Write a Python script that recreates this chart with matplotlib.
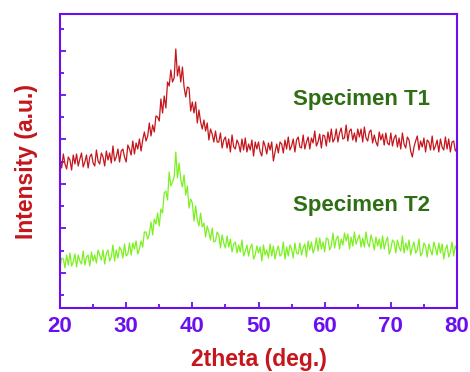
"""XRD patterns of specimens T1 and T2."""

import matplotlib

matplotlib.use("Agg")

import matplotlib.pyplot as plt
import numpy as np

plt.rcParams["font.family"] = ["Liberation Sans", "DejaVu Sans"]
plt.rcParams["font.weight"] = "bold"

# intensity (a.u.), sampled every 0.25 deg from 20 to 80 deg 2theta
t1_counts = [
    150, 140, 154, 144, 139, 151, 148, 138, 153, 144, 154, 142,
    149, 155, 141, 146, 153, 140, 151, 154, 145, 142, 158, 147,
    144, 155, 151, 142, 157, 148, 155, 145, 162, 147, 151, 159,
    146, 157, 159, 151, 146, 163, 159, 153, 167, 154, 165, 159,
    169, 157, 168, 176, 167, 172, 185, 172, 183, 176, 192, 191,
    187, 209, 195, 212, 200, 226, 222, 238, 226, 230, 259, 232,
    242, 226, 241, 221, 211, 221, 220, 197, 206, 195, 206, 185,
    198, 186, 179, 188, 177, 185, 168, 179, 174, 166, 177, 166,
    166, 175, 160, 168, 171, 160, 169, 156, 173, 161, 159, 168,
    164, 156, 169, 158, 170, 156, 164, 158, 168, 152, 166, 159,
    166, 156, 152, 167, 162, 154, 165, 158, 166, 147, 156, 164,
    155, 166, 164, 155, 168, 159, 171, 158, 162, 169, 156, 168,
    171, 161, 160, 173, 159, 166, 171, 159, 170, 165, 177, 162,
    166, 174, 160, 173, 172, 162, 176, 166, 179, 166, 169, 179,
    166, 175, 180, 169, 170, 183, 167, 177, 179, 168, 175, 166,
    179, 171, 179, 166, 181, 170, 167, 176, 178, 165, 173, 166,
    162, 176, 168, 174, 163, 175, 165, 163, 175, 162, 170, 173,
    161, 170, 159, 175, 164, 160, 171, 168, 157, 151, 161, 167,
    172, 158, 167, 161, 170, 156, 168, 166, 158, 172, 158, 162,
    168, 156, 169, 161, 158, 171, 159, 169, 156, 166, 167, 157,
    160,
]

t2_counts = [
    40, 50, 49, 40, 53, 43, 55, 42, 46, 54, 41, 53,
    47, 44, 57, 43, 51, 53, 42, 56, 47, 53, 45, 58,
    53, 48, 58, 44, 55, 58, 47, 51, 63, 47, 58, 50,
    61, 58, 50, 64, 52, 54, 65, 53, 65, 59, 67, 54,
    59, 67, 61, 76, 76, 69, 74, 86, 73, 89, 84, 95,
    82, 99, 95, 115, 117, 108, 136, 122, 126, 131, 156, 130,
    145, 128, 121, 133, 113, 122, 100, 109, 105, 87, 102, 88,
    82, 95, 81, 85, 71, 82, 76, 68, 80, 66, 67, 76,
    73, 60, 73, 65, 60, 72, 61, 69, 56, 64, 66, 55,
    63, 56, 68, 52, 57, 63, 52, 60, 64, 49, 53, 62,
    55, 61, 47, 63, 53, 58, 50, 64, 52, 62, 49, 57,
    62, 52, 54, 66, 49, 61, 52, 63, 59, 50, 65, 55,
    54, 65, 53, 60, 64, 51, 67, 58, 66, 55, 60, 70,
    57, 70, 59, 66, 56, 70, 69, 58, 62, 75, 60, 69,
    72, 59, 69, 63, 75, 67, 74, 59, 71, 62, 76, 64,
    69, 73, 61, 70, 61, 76, 65, 61, 73, 67, 58, 71,
    62, 69, 59, 72, 59, 66, 71, 54, 59, 68, 66, 55,
    68, 61, 57, 72, 55, 65, 58, 68, 53, 61, 66, 55,
    58, 69, 52, 55, 65, 62, 51, 64, 58, 53, 66, 60,
    53, 65, 55, 64, 49, 59, 63, 51, 56, 66, 52, 62,
    58,
]

two_theta = np.linspace(20, 80, len(t1_counts))

axis_color = "#6a10f0"
red = "#c4161c"
green = "#7cf020"
label_green = "#2f6e14"

fig = plt.figure(figsize=(4.7, 3.72), dpi=100)
ax = fig.add_axes([0.1277, 0.172, 0.8446, 0.7904])

ax.plot(two_theta, t1_counts, color=red, linewidth=0.9)
ax.plot(two_theta, t2_counts, color=green, linewidth=0.9)

ax.text(65.6, 208, "Specimen T1", color=label_green, fontsize=16, fontweight="bold",
        ha="center", va="center")
ax.text(65.6, 103, "Specimen T2", color=label_green, fontsize=16, fontweight="bold",
        ha="center", va="center")

ax.set_xlim(20, 80)
ax.set_ylim(0, 294)
ax.set_xticks(np.arange(20, 81, 10))
ax.set_xticks(np.arange(25, 80, 10), minor=True)
ax.set_yticks(np.arange(35.3, 294, 44.4))
ax.set_yticks(np.arange(13, 294, 44.4), minor=True)
ax.set_yticklabels([])

for spine in ax.spines.values():
    spine.set_color(axis_color)
    spine.set_linewidth(1.5)

ax.tick_params(axis="both", which="both", direction="in", color=axis_color, width=1.3)
ax.tick_params(axis="both", which="major", length=4.5)
ax.tick_params(axis="both", which="minor", length=3)
ax.tick_params(axis="x", labelsize=16, labelcolor=axis_color, pad=6)
for lab in ax.get_xticklabels():
    lab.set_fontweight("bold")

ax.set_xlabel("2theta (deg.)", color=red, fontsize=16.5, fontweight="bold", labelpad=8)
ax.set_ylabel("Intensity (a.u.)", color=red, fontsize=16.5, fontweight="bold", labelpad=12)

fig.savefig("out.png", dpi=100)
plt.close(fig)
